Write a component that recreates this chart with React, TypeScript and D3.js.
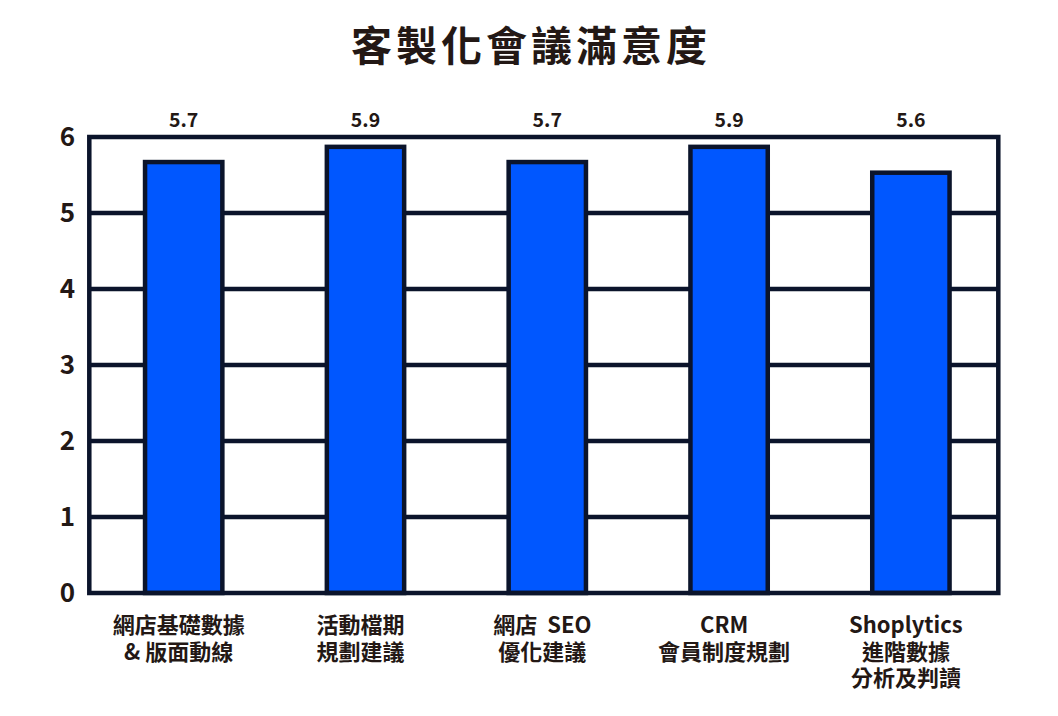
import React from "react";
import * as d3 from "d3";

const title = "客製化會議滿意度";
const categories = ["c1", "c2", "c3", "c4", "c5"];
const categoryLabels: string[][] = [
  ["網店基礎數據", "& 版面動線"],
  ["活動檔期", "規劃建議"],
  ["網店  SEO", "優化建議"],
  ["CRM", "會員制度規劃"],
  ["Shoplytics", "進階數據", "分析及判讀"],
];
const values = [5.7, 5.9, 5.7, 5.9, 5.56];
const yTicks = [0, 1, 2, 3, 4, 5, 6];

const W = 1058;
const H = 716;
const FONT = "'Noto Sans CJK TC', 'Noto Sans', sans-serif";
const TEXT = "#231815";
const LINE = "#0b142b";
const FILL = "#0057ff";

const frameL = 89.3;
const frameR = 998.3;
const frameT = 137;
const frameB = 593;

export default function App() {
  const x = d3
    .scaleBand<string>()
    .domain(categories)
    .range([frameL + 3.5, frameR + 3.5])
    .paddingInner(0.55)
    .paddingOuter(0.275);
  const y = d3.scaleLinear().domain([0, 6]).range([frameB, frameT]);
  const fmt = d3.format(".1f");
  const sw = 4.5;
  const bw = x.bandwidth();

  return (
    <svg width={W} height={H} style={{ position: "absolute", left: 0, top: 0, background: "#fff" }}>
      <rect x={0} y={0} width={W} height={H} fill="#fff" />
      <text
        x={531}
        y={61}
        textAnchor="middle"
        fontFamily={FONT}
        fontWeight={700}
        fontSize={41}
        letterSpacing={4}
        fill={TEXT}
      >
        {title}
      </text>

      {/* gridlines */}
      {yTicks
        .filter((t) => t > 0 && t < 6)
        .map((t) => (
          <line key={t} x1={frameL} x2={frameR} y1={y(t)} y2={y(t)} stroke={LINE} strokeWidth={4.5} />
        ))}

      {/* bars */}
      {categories.map((c, i) => (
        <rect
          key={c}
          x={(x(c) as number) + sw / 2}
          y={y(values[i]) + sw / 2}
          width={bw - sw}
          height={y(0) - y(values[i]) - sw / 2}
          fill={FILL}
          stroke={LINE}
          strokeWidth={sw}
        />
      ))}

      {/* frame */}
      <rect
        x={frameL}
        y={frameT}
        width={frameR - frameL}
        height={frameB - frameT}
        fill="none"
        stroke={LINE}
        strokeWidth={4.5}
      />

      {/* y ticks */}
      {yTicks.map((t) => (
        <text
          key={t}
          x={75}
          y={y(t)}
          dy="0.36em"
          textAnchor="end"
          fontFamily={FONT}
          fontWeight={700}
          fontSize={26}
          fill={TEXT}
        >
          {t}
        </text>
      ))}

      {/* value labels */}
      {categories.map((c, i) => (
        <text
          key={c}
          x={(x(c) as number) + bw / 2}
          y={127}
          textAnchor="middle"
          fontFamily={FONT}
          fontWeight={700}
          fontSize={19.5}
          fill={TEXT}
        >
          {fmt(values[i])}
        </text>
      ))}

      {/* category labels */}
      {categories.map((c, i) => (
        <text
          key={c}
          textAnchor="middle"
          fontFamily={FONT}
          fontWeight={700}
          fontSize={22}
          fill={TEXT}
          style={{ whiteSpace: "pre" }}
        >
          {categoryLabels[i].map((ln, j) => (
            <tspan key={j} x={(x(c) as number) + bw / 2 - 5} y={633 + j * 26.5}>
              {ln}
            </tspan>
          ))}
        </text>
      ))}
    </svg>
  );
}
